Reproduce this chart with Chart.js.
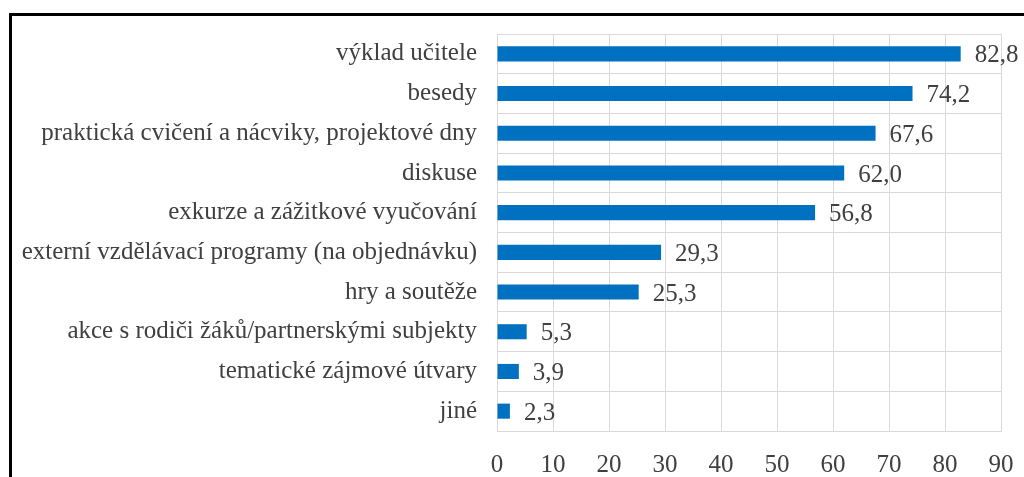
<!DOCTYPE html>
<html>
<head>
<meta charset="utf-8">
<script src="https://cdn.jsdelivr.net/npm/chart.js@4/dist/chart.umd.min.js"></script>
<style>
  html, body { margin: 0; padding: 0; background: #fff; }
  #wrap { position: relative; width: 1024px; height: 477px; overflow: hidden; }
  #frame { position: absolute; left: 9px; top: 13px; width: 1100px; height: 600px; border: 3px solid #000; box-sizing: border-box; }
  canvas { position: absolute; left: 0; top: 0; }
</style>
</head>
<body>
<div id="wrap">
  <div id="frame"></div>
  <canvas id="myChart" width="1024" height="477"></canvas>
</div>
<script>
const categories = [
  'výklad učitele',
  'besedy',
  'praktická cvičení a nácviky, projektové dny',
  'diskuse',
  'exkurze a zážitkové vyučování',
  'externí vzdělávací programy (na objednávku)',
  'hry a soutěže',
  'akce s rodiči žáků/partnerskými subjekty',
  'tematické zájmové útvary',
  'jiné'
];
const values = [82.8, 74.2, 67.6, 62.0, 56.8, 29.3, 25.3, 5.3, 3.9, 2.3];
const xTicks = [0, 10, 20, 30, 40, 50, 60, 70, 80, 90];

const textColor = '#404040';
const fontFamily = '"Liberation Serif", "Times New Roman", serif';
const fontSize = 25;

// value labels to the right of each bar, with decimal comma
const valueLabels = {
  id: 'valueLabels',
  afterDatasetsDraw(chart) {
    const {ctx} = chart;
    const meta = chart.getDatasetMeta(0);
    ctx.save();
    ctx.font = fontSize + 'px ' + fontFamily;
    ctx.fillStyle = textColor;
    ctx.textAlign = 'left';
    ctx.textBaseline = 'middle';
    meta.data.forEach((bar, i) => {
      const txt = values[i].toFixed(1).replace('.', ',');
      ctx.fillText(txt, bar.x + 14, bar.y + 2);
    });
    ctx.restore();
  }
};

const config = {
  type: 'bar',
  data: {
    labels: categories,
    datasets: [{
      data: values,
      backgroundColor: '#0070C0',
      borderWidth: 0,
      categoryPercentage: 1,
      barPercentage: 0.38
    }]
  },
  options: {
    indexAxis: 'y',
    responsive: false,
    animation: false,
    layout: { padding: { left: 0, right: 23, top: 34, bottom: 0 } },
    plugins: {
      legend: { display: false },
      tooltip: { enabled: false }
    },
    scales: {
      x: {
        min: 0,
        max: 90,
        afterBuildTicks(scale) {
          scale.ticks = xTicks.map(v => ({ value: v }));
        },
        afterFit(scale) {
          scale.height = 46;
          scale.paddingLeft = 0;
          scale.paddingRight = 0;
        },
        grid: { color: '#d9d9d9', drawTicks: false, lineWidth: 1 },
        border: { display: true, color: '#d9d9d9' },
        ticks: {
          padding: 19,
          color: textColor,
          font: { family: fontFamily, size: fontSize }
        }
      },
      y: {
        afterFit(scale) {
          scale.width = 497;
          scale.paddingTop = 0;
          scale.paddingBottom = 0;
        },
        grid: { color: '#d9d9d9', drawTicks: false, offset: true },
        border: { display: true, color: '#d9d9d9' },
        ticks: {
          padding: 20,
          color: textColor,
          font: { family: fontFamily, size: fontSize }
        }
      }
    }
  },
  plugins: [valueLabels]
};

const myChart = new Chart(document.getElementById('myChart'), config);
</script>
</body>
</html>
